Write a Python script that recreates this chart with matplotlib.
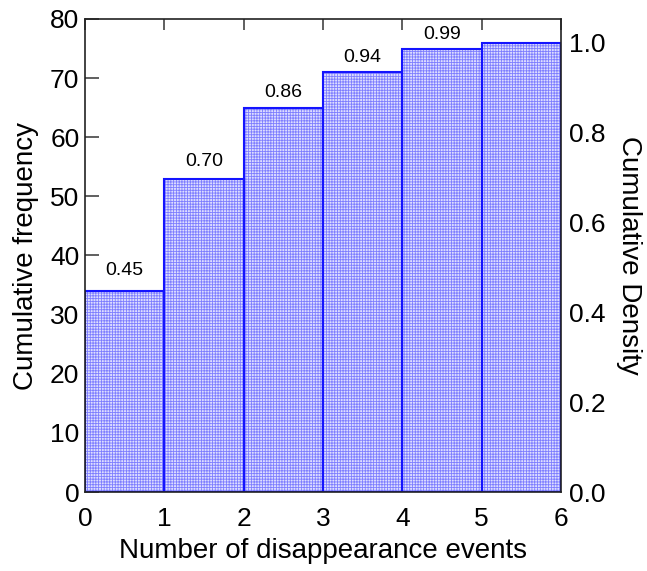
import matplotlib
matplotlib.use("Agg")
import matplotlib.pyplot as plt
import numpy as np

plt.rcParams['font.family'] = ['Liberation Sans', 'DejaVu Sans']
plt.rcParams['hatch.linewidth'] = 0.6

# Cumulative counts of disappearance events
events = [0, 1, 2, 3, 4, 5]
cum_freq = [34, 53, 65, 71, 75, 76]
density_labels = ["0.45", "0.70", "0.86", "0.94", "0.99"]
total = 76

fig = plt.figure(figsize=(6.47, 5.71), dpi=100)
ax = fig.add_axes([85/647, 1-492/571, 476/647, 473/571])

# textured fill (hatch takes the edge colour), then the solid outlines
ax.bar(events, cum_freq, width=1.0, align='edge', facecolor='#dedeff',
       edgecolor='#7e7eff', linewidth=0, hatch='++++++', zorder=2)
ax.bar(events, cum_freq, width=1.0, align='edge', facecolor='none',
       edgecolor='#1414ff', linewidth=1.5, zorder=2.1)

for x, h, lab in zip(events, cum_freq, density_labels):
    ax.text(x + 0.5, h + 4.2 - 0.024 * h, lab, ha='center', va='center',
            fontsize=14)

ax.set_xlim(0, 6)
ax.set_ylim(0, 80)
ax.set_xticks(range(7))
ax.set_yticks(range(0, 81, 10))
ax.tick_params(axis='y', direction='in', length=10, width=1.2, color='#444444',
               labelsize=19, pad=4)
ax.tick_params(axis='x', length=0, labelsize=19, pad=11)
for sp in ax.spines.values():
    sp.set_color('#222222')
    sp.set_linewidth(1.2)

# top ticks drawn inward, bottom ticks hidden
sec = ax.secondary_xaxis('top')
sec.set_xticks(range(7))
sec.tick_params(direction='in', length=8, width=1.2, color='#444444', labelsize=0)
sec.set_xticklabels([])
sec.spines['top'].set_visible(False)

ax.set_xlabel("Number of disappearance events", fontsize=20, labelpad=5)
ax.set_ylabel("Cumulative frequency", fontsize=20, labelpad=8)

ax2 = ax.twinx()
ax2.set_ylim(0, 80 / total)
ax2.set_yticks(np.arange(0, 1.01, 0.2))
ax2.set_yticklabels([f"{v:.1f}" for v in np.arange(0, 1.01, 0.2)])
ax2.tick_params(axis='y', length=0, labelsize=19, pad=6)
for sp in ax2.spines.values():
    sp.set_visible(False)
ax2.set_ylabel("Cumulative Density", fontsize=20, rotation=270, labelpad=26)

fig.savefig("out.png", dpi=100)
